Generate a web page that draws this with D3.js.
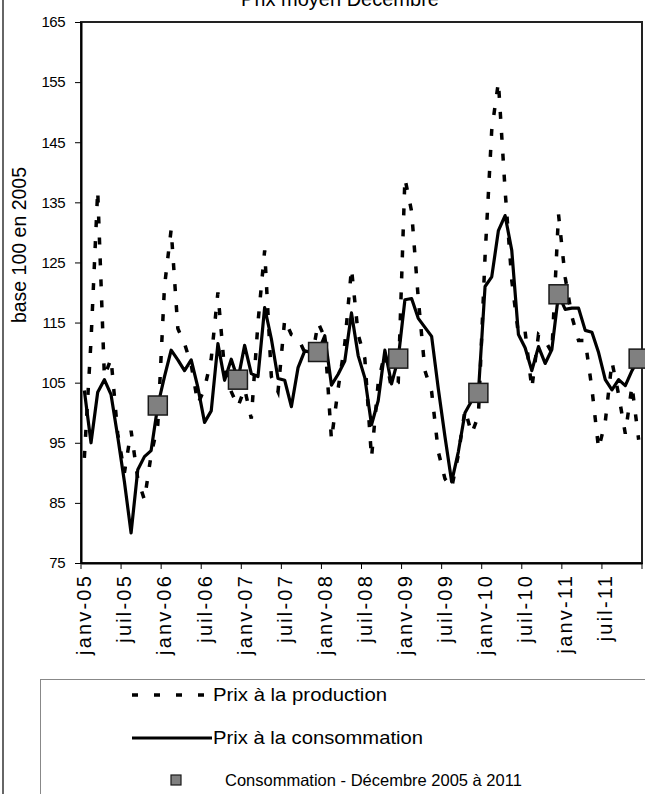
<!DOCTYPE html>
<html><head><meta charset="utf-8">
<script src="https://cdn.jsdelivr.net/npm/d3@7/dist/d3.min.js"></script>
<style>
body{margin:0;background:#fff}
svg{display:block}
text{font-family:"Liberation Sans",Arial,sans-serif;fill:#000}
</style>
</head><body>
<svg id="chart" width="645" height="794"></svg>
<script>
// ---- data ----
const monthNames = ["janv","févr","mars","avr","mai","juin","juil","août","sept","oct","nov","déc"];
const years = ["05","06","07","08","09","10","11"];
const categories = years.flatMap(y => monthNames.map(m => m + "-" + y));
const tickLabels = ["janv-05","juil-05","janv-06","juil-06","janv-07","juil-07","janv-08","juil-08","janv-09","juil-09","janv-10","juil-10","janv-11","juil-11"];
const yTicks = [75,85,95,105,115,125,135,145,155,165];

const production = [
  92.5,112,137,106,109,96.5,90,97,89,85.5,93,98,
  121,130.5,114,111.5,108,101.5,104,109,120,107,103.5,101,
  104,99,115,127,106,103.5,115.5,113,112.5,110,108.5,115,
  112.5,95.5,104,111.5,124,113,109,92.5,105,110,104,105,
  139,133.5,119,107,103.5,93.5,89,87.5,93,100.5,96.5,99.5,
  126,147,155,137,122,113,113.5,104,113,112,110,133,
  122.5,116,112,112,104,94,98.5,108.5,103,96.5,104.5,95.5
];
const consumption = [
  103.7,95,103.4,105.5,103,96,88.5,80,90.5,92.7,93.7,101.2,
  106,110.4,108.8,107,108.8,104.2,98.4,100.3,111.5,105.4,108.9,105.5,
  111.2,106.5,106,117.5,112.3,105.7,105.4,101,107.5,110.3,110,110.1,
  112.8,104.6,106.4,108.6,116.6,109.5,105.8,98,102,110.4,104.8,109,
  118.8,119,115.7,114.2,112.7,104,96,88.5,93.5,100,102,103.3,
  121,122.6,130.3,132.8,127,113,110.8,107,111,108.2,110.5,119.7,
  117.2,117.4,117.4,113.7,113.4,110,105.5,103.8,105.5,104.5,107,109
];
const seriesNames = ["Prix à la production","Prix à la consommation","Consommation - Décembre 2005 à 2011"];
const titleText = "Prix moyen Décembre";
const yTitle = "base 100 en 2005";

// ---- layout ----
const svg = d3.select("#chart");
const L = 81, R = 642, T = 22, B = 563;
const x = d3.scaleBand().domain(categories).range([L, R]);
const y = d3.scaleLinear().domain([75,165]).range([B, T]);
const cx = c => x(c) + x.bandwidth()/2;

// outer frame
svg.append("line").attr("x1",3).attr("x2",3).attr("y1",0).attr("y2",794)
  .attr("stroke","#333").attr("stroke-width",1.5);

// title (cut at top, as in the reference)
svg.append("text").attr("x",340).attr("y",6).attr("text-anchor","middle")
  .attr("font-size",20).text(titleText);

// plot frame
svg.append("rect").attr("x",L).attr("y",T).attr("width",R-L).attr("height",B-T)
  .attr("fill","#fff").attr("stroke","#222").attr("stroke-width",2);

// y axis
const yAxis = svg.append("g").attr("transform",`translate(${L},0)`)
  .call(d3.axisLeft(y).tickValues(yTicks).tickSizeInner(6).tickSizeOuter(0).tickPadding(10));
yAxis.select(".domain").attr("stroke","#000").attr("stroke-width",2);
yAxis.selectAll(".tick line").attr("stroke","#000").attr("stroke-width",1);
yAxis.selectAll(".tick text").attr("font-size",15).attr("letter-spacing","-0.5px")
  .attr("font-family","Liberation Sans, Arial, sans-serif");

// y title
svg.append("text").attr("transform",`translate(26,245) rotate(-90)`)
  .attr("text-anchor","middle").attr("font-size",19.5).text(yTitle);

// x axis
const xAxis = svg.append("g").attr("transform",`translate(0,${B})`)
  .call(d3.axisBottom(x).tickValues(tickLabels).tickSize(0).tickPadding(0));
xAxis.select(".domain").attr("stroke","#000").attr("stroke-width",2);
xAxis.selectAll(".tick text")
  .attr("font-size",20).attr("letter-spacing","2.2px")
  .attr("font-family","Liberation Sans, Arial, sans-serif")
  .attr("text-anchor","end").attr("dy","0.35em")
  .attr("transform","translate(0,11) rotate(-90)")
  .attr("x",0).attr("y",0);
// tick marks at category boundaries
const tickBounds = tickLabels.map(t => x(t)).concat([R]);
svg.append("g").selectAll("line").data(tickBounds).join("line")
  .attr("x1",d=>d).attr("x2",d=>d).attr("y1",B).attr("y2",B+6)
  .attr("stroke","#000").attr("stroke-width",1);

// lines
const line = d3.line().x((d,i)=>cx(categories[i])).y(d=>y(d));
svg.append("path").datum(production).attr("d",line)
  .attr("fill","none").attr("stroke","#000").attr("stroke-width",3.5)
  .attr("stroke-dasharray","7,14");
svg.append("path").datum(consumption).attr("d",line)
  .attr("fill","none").attr("stroke","#000").attr("stroke-width",3.2)
  .attr("stroke-linejoin","round");

// december markers
const decIdx = categories.map((c,i)=>c.startsWith("déc")?i:-1).filter(i=>i>=0);
const S = 19;
svg.append("g").selectAll("rect").data(decIdx).join("rect")
  .attr("x",i=>cx(categories[i])-S/2).attr("y",i=>y(consumption[i])-S/2)
  .attr("width",S).attr("height",S)
  .attr("fill","#808080").attr("stroke","#1a1a1a").attr("stroke-width",1.5);

// legend
svg.append("rect").attr("x",40.5).attr("y",679.5).attr("width",640).attr("height",140)
  .attr("fill","none").attr("stroke","#888").attr("stroke-width",1);
const lg = svg.append("g");
const rows = [695, 738, 780];
lg.append("line").attr("x1",132).attr("x2",212).attr("y1",rows[0]).attr("y2",rows[0])
  .attr("stroke","#000").attr("stroke-width",3.5).attr("stroke-dasharray","6,16");
lg.append("line").attr("x1",132).attr("x2",212).attr("y1",rows[1]).attr("y2",rows[1])
  .attr("stroke","#000").attr("stroke-width",3.2);
lg.append("rect").attr("x",171).attr("y",rows[2]-5).attr("width",10).attr("height",10)
  .attr("fill","#808080").attr("stroke","#1a1a1a").attr("stroke-width",1.2);
lg.append("text").attr("x",213).attr("y",rows[0]).attr("dy","0.35em").attr("font-size",18.5)
  .attr("textLength",174).attr("lengthAdjust","spacingAndGlyphs").text(seriesNames[0]);
lg.append("text").attr("x",213).attr("y",rows[1]).attr("dy","0.35em").attr("font-size",18.5)
  .attr("textLength",210).attr("lengthAdjust","spacingAndGlyphs").text(seriesNames[1]);
lg.append("text").attr("x",225).attr("y",rows[2]).attr("dy","0.35em").attr("font-size",16.5)
  .text(seriesNames[2]);
</script>
</body></html>
